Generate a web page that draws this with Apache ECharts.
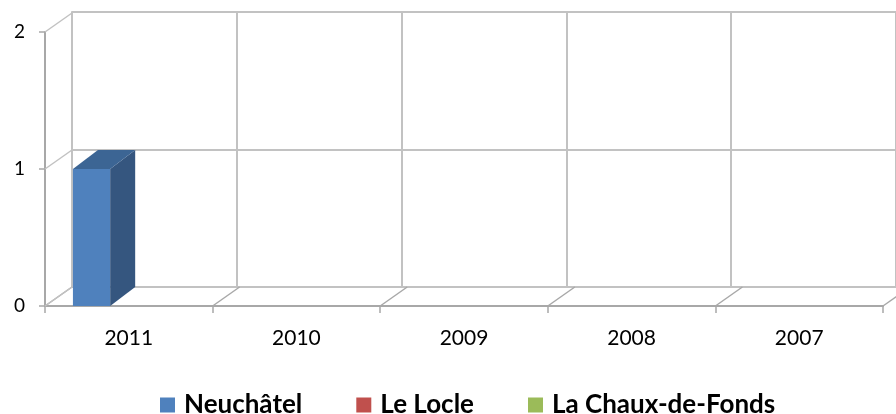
<!DOCTYPE html>
<html>
<head>
<meta charset="utf-8">
<script src="https://cdn.jsdelivr.net/npm/echarts@6/dist/echarts.min.js"></script>
<style>
  html, body { margin: 0; padding: 0; background: #fff; }
  #chart { width: 896px; height: 414px; }
</style>
</head>
<body>
<div id="chart"></div>
<script>
// categories and values
var years = ['2011', '2010', '2009', '2008', '2007'];
var seriesNames = ['Neuchâtel', 'Le Locle', 'La Chaux-de-Fonds'];
var neuchatel = [1, 0, 0, 0, 0];
var leLocle = [0, 0, 0, 0, 0];
var chauxDeFonds = [0, 0, 0, 0, 0];
var yTicks = [0, 1, 2];

// face colours: front, side, top
var faces = [
  ['#4F81BD', '#35567F', '#3C6594'],
  ['#C0504D', '#8A3735', '#9E403E'],
  ['#9BBB59', '#6E8A3C', '#7F9F48']
];

var gridLine = '#c2c2c2';
var axisLine = '#a8a8a8';
var font = 'Lato, Carlito, "Open Sans", sans-serif';

// depth of the wall and of the bars (3d look)
var wallDx = 27, wallDy = -19;
var barDx = 25, barDy = -19;

function barSeries(name, values, idx) {
  var col = faces[idx];
  return {
    name: name,
    type: 'custom',
    xAxisIndex: 0,
    yAxisIndex: 0,
    z: 10,
    itemStyle: { color: col[0] },
    data: values.map(function (v, i) { return [i, v]; }),
    renderItem: function (params, api) {
      var v = api.value(1);
      if (!v) return null;
      var top = api.coord([api.value(0), v]);
      var base = api.coord([api.value(0), 0]);
      var band = api.size([1, 0])[0];
      var w = band / 4.5;
      var x0 = top[0] - band / 2 + w * (0.75 + idx);
      var x1 = x0 + w;
      return {
        type: 'group',
        children: [
          {
            type: 'rect',
            shape: { x: x0, y: top[1], width: w, height: base[1] - top[1] },
            style: { fill: col[0] }
          },
          {
            type: 'polygon',
            shape: { points: [[x1, top[1]], [x1 + barDx, top[1] + barDy], [x1 + barDx, base[1] + barDy], [x1, base[1]]] },
            style: { fill: col[1] }
          },
          {
            type: 'polygon',
            shape: { points: [[x0, top[1]], [x0 + barDx, top[1] + barDy], [x1 + barDx, top[1] + barDy], [x1, top[1]]] },
            style: { fill: col[2] }
          }
        ]
      };
    }
  };
}

// slanted edges of the floor, one at each category boundary
var floorEdges = {
  type: 'custom',
  silent: true,
  z: 3,
  xAxisIndex: 0,
  yAxisIndex: 0,
  data: years.map(function (y, i) { return [i, 0]; }),
  renderItem: function (params, api) {
    var p = api.coord([api.value(0), 0]);
    var band = api.size([1, 0])[0];
    var xs = [p[0] - band / 2];
    if (params.dataIndex === years.length - 1) xs.push(p[0] + band / 2);
    return {
      type: 'group',
      children: xs.map(function (x) {
        return {
          type: 'line',
          shape: { x1: x, y1: p[1], x2: x + wallDx, y2: p[1] + wallDy },
          style: { stroke: axisLine, lineWidth: 1.5 }
        };
      })
    };
  }
};

// slanted edges of the left wall at each value tick
var wallEdges = {
  type: 'custom',
  silent: true,
  z: 3,
  xAxisIndex: 0,
  yAxisIndex: 0,
  data: yTicks.map(function (t) { return [0, t]; }),
  renderItem: function (params, api) {
    var p = api.coord([0, api.value(1)]);
    var band = api.size([1, 0])[0];
    var x = p[0] - band / 2;
    return {
      type: 'line',
      shape: { x1: x, y1: p[1], x2: x + wallDx, y2: p[1] + wallDy },
      style: { stroke: gridLine, lineWidth: 1.5 }
    };
  }
};

var myChart = echarts.init(document.getElementById('chart'));
var option = {
  animation: false,
  backgroundColor: '#fff',
  grid: [
    { left: 45, top: 32, width: 838, height: 274 },   // front plane
    { left: 72, top: 12, width: 838, height: 275 }    // back wall
  ],
  legend: {
    data: seriesNames,
    left: 155,
    top: 387,
    icon: 'rect',
    itemWidth: 15,
    itemHeight: 15,
    itemGap: 54,
    textStyle: {
      fontFamily: font,
      fontWeight: 'bold',
      fontSize: 26,
      lineHeight: 26,
      color: '#000',
      padding: [0, 0, 0, 4]
    }
  },
  xAxis: [
    {
      type: 'category',
      gridIndex: 0,
      data: years,
      boundaryGap: true,
      axisLine: { show: true, lineStyle: { color: axisLine, width: 2 } },
      axisTick: { show: true, length: 7, lineStyle: { color: axisLine, width: 1.5 } },
      axisLabel: { margin: 22, fontFamily: font, fontSize: 21, color: '#000' },
      splitLine: { show: false }
    },
    {
      type: 'category',
      gridIndex: 1,
      data: years,
      boundaryGap: true,
      axisLine: { show: false },
      axisTick: { show: false },
      axisLabel: { show: false },
      splitLine: { show: true, lineStyle: { color: gridLine, width: 2 } }
    }
  ],
  yAxis: [
    {
      type: 'value',
      gridIndex: 0,
      min: 0,
      max: 2,
      interval: 1,
      axisLine: { show: true, lineStyle: { color: axisLine, width: 2 } },
      axisTick: { show: true, length: 6, lineStyle: { color: axisLine, width: 1.5 } },
      axisLabel: { margin: 20, fontFamily: font, fontSize: 19, color: '#000' },
      splitLine: { show: false }
    },
    {
      type: 'value',
      gridIndex: 1,
      min: 0,
      max: 2,
      interval: 1,
      axisLine: { show: true, lineStyle: { color: gridLine, width: 2 } },
      axisTick: { show: false },
      axisLabel: { show: false },
      splitLine: { show: true, lineStyle: { color: gridLine, width: 2 } }
    }
  ],
  series: [
    floorEdges,
    wallEdges,
    barSeries(seriesNames[0], neuchatel, 0),
    barSeries(seriesNames[1], leLocle, 1),
    barSeries(seriesNames[2], chauxDeFonds, 2)
  ]
};

option && myChart.setOption(option);
</script>
</body>
</html>
